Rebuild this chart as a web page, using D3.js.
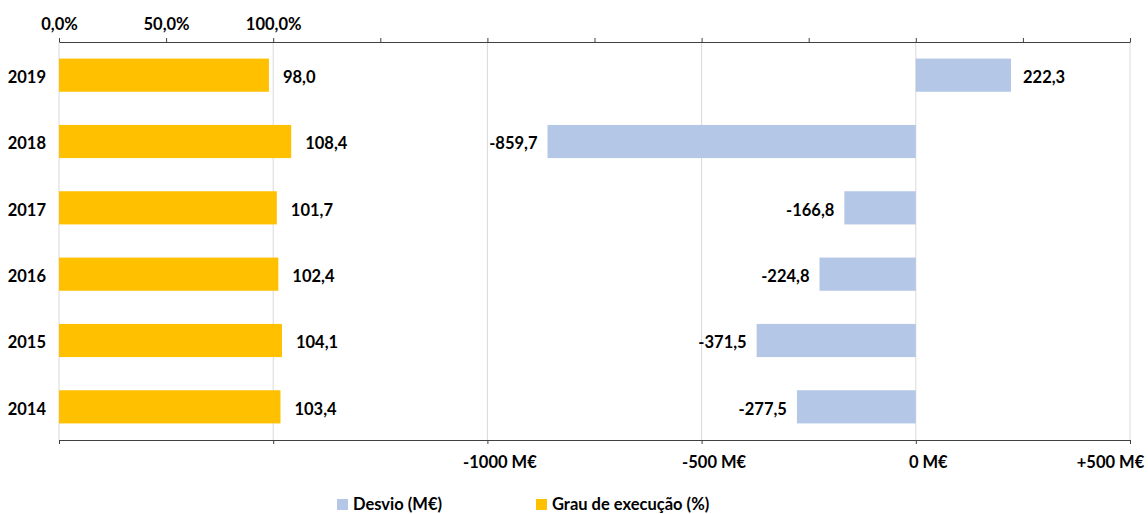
<!DOCTYPE html>
<html>
<head>
<meta charset="utf-8">
<script src="https://cdn.jsdelivr.net/npm/d3@7"></script>
<style>
    body { margin: 0; background: #fff; }
    text { font-family: Lato, "Open Sans", sans-serif; font-weight: bold; fill: #000; }
</style>
</head>
<body>
<svg id="viz"></svg>
<script>
var width = 1148;
var height = 514;

// data
var years = ["2019", "2018", "2017", "2016", "2015", "2014"];
var grauExecucao = [98.0, 108.4, 101.7, 102.4, 104.1, 103.4];
var desvio = [222.3, -859.7, -166.8, -224.8, -371.5, -277.5];
var pctTicks = [0, 50, 100, 150, 200, 250, 300, 350, 400, 450, 500];
var pctLabels = ["0,0%", "50,0%", "100,0%"];
var eurTicks = [-2000, -1500, -1000, -500, 0, 500];
var eurLabels = ["", "", "-1000 M€", "-500 M€", "0 M€", "+500 M€"];
var legendNames = ["Desvio (M€)", "Grau de execução (%)"];
var colors = ["#b4c7e7", "#ffc000"];

var plotLeft = 59, plotRight = 1130, plotTop = 42, plotBottom = 440;
var fontSize = "16.5px";

var svg = d3.select("#viz")
    .attr("width", width)
    .attr("height", height);

var xPct = d3.scaleLinear().domain([0, 500]).range([plotLeft, plotRight]);
var xEur = d3.scaleLinear().domain([-2000, 500]).range([plotLeft, plotRight]);
var y = d3.scaleBand().domain(years).range([plotTop, plotBottom]).paddingInner(0.5).paddingOuter(0.25);

// portuguese style: comma decimal, plain hyphen
var pt = d3.formatLocale({ decimal: ",", thousands: ".", grouping: [3], currency: ["", " €"], minus: "-" });
var fmt = pt.format(".1f");

//gridlines
svg.append("g")
    .selectAll("line")
    .data(eurTicks)
    .enter()
    .append("line")
    .attr("x1", function (d) { return xEur(d); })
    .attr("x2", function (d) { return xEur(d); })
    .attr("y1", plotTop)
    .attr("y2", plotBottom)
    .style("stroke", "#d9d9d9")
    .style("stroke-width", 1);

//yellow bars
svg.append("g")
    .selectAll("rect")
    .data(grauExecucao)
    .enter()
    .append("rect")
    .attr("x", xPct(0))
    .attr("y", function (d, i) { return y(years[i]); })
    .attr("width", function (d) { return xPct(d) - xPct(0); })
    .attr("height", y.bandwidth())
    .attr("fill", colors[1]);

//blue bars
svg.append("g")
    .selectAll("rect")
    .data(desvio)
    .enter()
    .append("rect")
    .attr("x", function (d) { return xEur(Math.min(0, d)); })
    .attr("y", function (d, i) { return y(years[i]); })
    .attr("width", function (d) { return Math.abs(xEur(d) - xEur(0)); })
    .attr("height", y.bandwidth())
    .attr("fill", colors[0]);

//data labels
svg.append("g")
    .selectAll("text")
    .data(grauExecucao)
    .enter()
    .append("text")
    .attr("x", function (d) { return xPct(d) + 14; })
    .attr("y", function (d, i) { return y(years[i]) + y.bandwidth() / 2; })
    .attr("dy", "0.48em")
    .style("font-size", fontSize)
    .text(fmt);

svg.append("g")
    .selectAll("text")
    .data(desvio)
    .enter()
    .append("text")
    .attr("x", function (d) { return d < 0 ? xEur(d) - 10 : xEur(d) + 12; })
    .attr("y", function (d, i) { return y(years[i]) + y.bandwidth() / 2; })
    .attr("dy", "0.48em")
    .attr("text-anchor", function (d) { return d < 0 ? "end" : "start"; })
    .style("font-size", fontSize)
    .text(fmt);

//year labels
svg.append("g")
    .selectAll("text")
    .data(years)
    .enter()
    .append("text")
    .attr("x", 46)
    .attr("y", function (d) { return y(d) + y.bandwidth() / 2; })
    .attr("dy", "0.48em")
    .attr("text-anchor", "end")
    .style("font-size", fontSize)
    .text(function (d) { return d; });

//top axis (percent)
var topAxis = svg.append("g")
    .attr("transform", "translate(0," + plotTop + ")")
    .call(d3.axisTop(xPct)
        .tickValues(pctTicks)
        .tickSize(4)
        .tickSizeOuter(0)
        .tickPadding(8)
        .tickFormat(function (d, i) { return pctLabels[i] || ""; }));
topAxis.select(".domain").style("stroke", "#404040");
topAxis.selectAll(".tick line").style("stroke", "#404040");
topAxis.selectAll("text").style("font-size", fontSize).attr("font-family", null);

//bottom axis (M€)
var bottomAxis = svg.append("g")
    .attr("transform", "translate(0," + plotBottom + ")")
    .call(d3.axisBottom(xEur)
        .tickValues(eurTicks)
        .tickSize(4)
        .tickSizeOuter(0)
        .tickFormat(function (d, i) { return eurLabels[i]; }));
bottomAxis.select(".domain").style("stroke", "#404040");
bottomAxis.selectAll(".tick line").style("stroke", "#404040");
bottomAxis.selectAll("text")
    .attr("y", 28)
    .attr("dy", 0)
    .attr("dx", function (d) { return d == 500 ? -20 : 12; })
    .attr("font-family", null)
    .style("font-size", fontSize);

//legend
var legend = svg.append("g")
    .selectAll("g")
    .data(legendNames)
    .enter()
    .append("g")
    .attr("transform", function (d, i) { return "translate(" + (i == 0 ? 337 : 536) + ",499)"; });

legend.append("rect")
    .attr("width", 11)
    .attr("height", 11)
    .attr("fill", function (d, i) { return colors[i]; });

legend.append("text")
    .attr("x", 16)
    .attr("y", 11)
    .style("font-size", fontSize)
    .text(function (d) { return d; });
</script>
</body>
</html>
